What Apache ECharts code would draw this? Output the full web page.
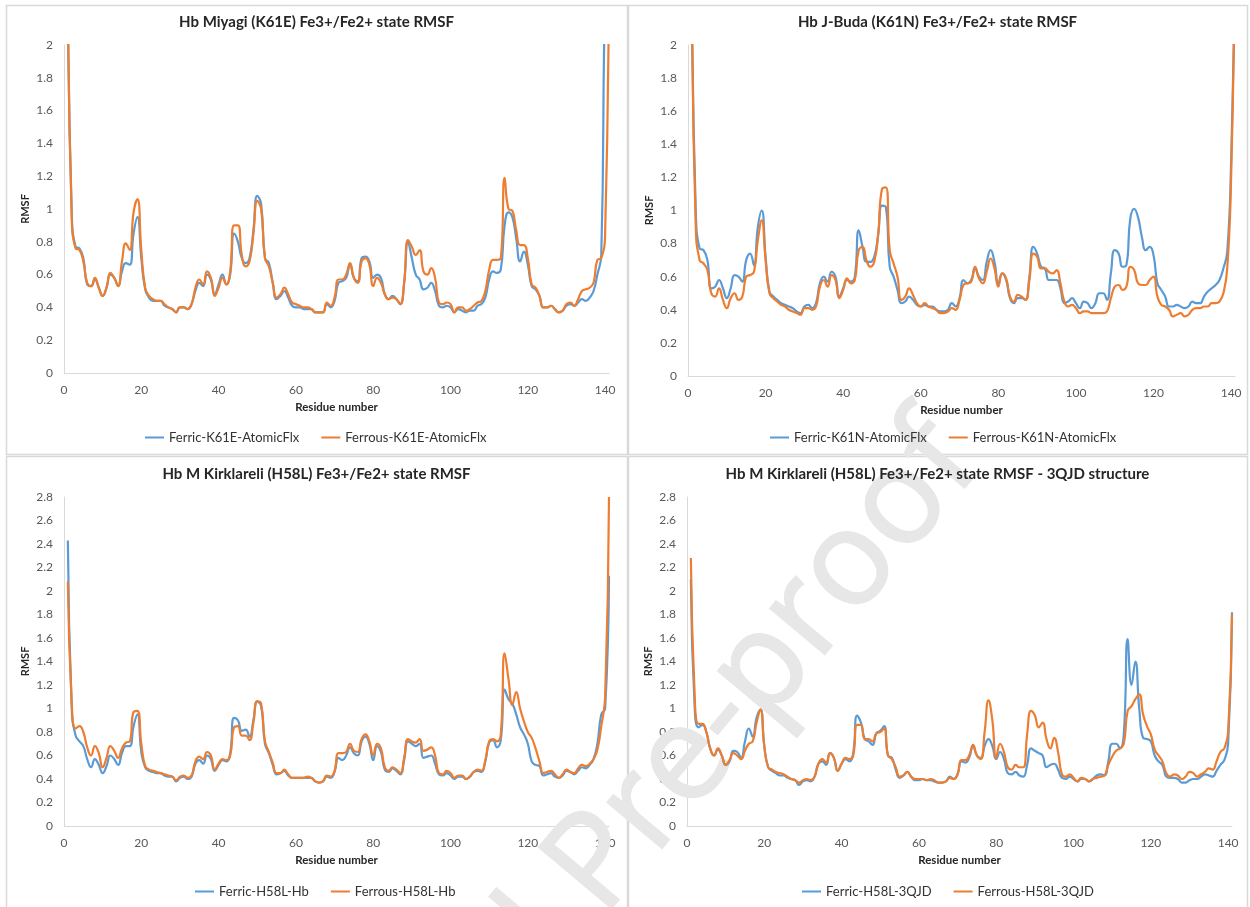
<!DOCTYPE html>
<html>
<head>
<meta charset="utf-8">
<script src="https://cdn.jsdelivr.net/npm/echarts@6/dist/echarts.min.js"></script>
<style>
html,body{margin:0;padding:0;background:#fff;}
#chart{width:1250px;height:907px;}
</style>
</head>
<body>
<div id="chart"></div>
<script>
// Residue numbers (x values)
const residues = Array.from({length: 141}, (_, i) => i + 1);
const xTicks = [0, 20, 40, 60, 80, 100, 120, 140];

const titles = [
  'Hb Miyagi (K61E) Fe3+/Fe2+ state RMSF',
  'Hb J-Buda (K61N) Fe3+/Fe2+ state RMSF',
  'Hb M Kirklareli (H58L) Fe3+/Fe2+ state RMSF',
  'Hb M Kirklareli (H58L) Fe3+/Fe2+ state RMSF - 3QJD structure'
];
const seriesNames = [
  ['Ferric-K61E-AtomicFlx', 'Ferrous-K61E-AtomicFlx'],
  ['Ferric-K61N-AtomicFlx', 'Ferrous-K61N-AtomicFlx'],
  ['Ferric-H58L-Hb', 'Ferrous-H58L-Hb'],
  ['Ferric-H58L-3QJD', 'Ferrous-H58L-3QJD']
];

const ferricK61E = [
  2.3, 0.98, 0.77, 0.76, 0.70, 0.54, 0.53, 0.57, 0.52, 0.47,
  0.52, 0.60, 0.58, 0.53, 0.62, 0.67, 0.66, 0.85, 0.95, 0.70,
  0.51, 0.46, 0.44, 0.44, 0.44, 0.41, 0.40, 0.39, 0.37, 0.40,
  0.40, 0.39, 0.42, 0.50, 0.55, 0.53, 0.60, 0.57, 0.48, 0.54,
  0.60, 0.54, 0.60, 0.85, 0.80, 0.70, 0.67, 0.70, 0.87, 1.08,
  1.03, 0.70, 0.67, 0.55, 0.45, 0.47, 0.50, 0.46, 0.41, 0.40,
  0.40, 0.39, 0.39, 0.39, 0.37, 0.37, 0.37, 0.42, 0.40, 0.44,
  0.55, 0.56, 0.58, 0.66, 0.58, 0.56, 0.70, 0.71, 0.68, 0.58,
  0.60, 0.58, 0.48, 0.45, 0.47, 0.45, 0.42, 0.55, 0.80, 0.70,
  0.60, 0.57, 0.51, 0.52, 0.55, 0.50, 0.41, 0.40, 0.41, 0.40,
  0.37, 0.39, 0.38, 0.37, 0.38, 0.38, 0.41, 0.42, 0.46, 0.57,
  0.62, 0.61, 0.63, 0.90, 0.98, 0.95, 0.82, 0.68, 0.74, 0.66,
  0.53, 0.51, 0.47, 0.40, 0.40, 0.41, 0.39, 0.37, 0.38, 0.41,
  0.42, 0.41, 0.43, 0.45, 0.44, 0.46, 0.50, 0.60, 0.72, 2.3, 2.6
];
const ferrousK61E = [
  2.3, 0.95, 0.76, 0.75, 0.68, 0.55, 0.53, 0.58, 0.52, 0.47,
  0.52, 0.61, 0.58, 0.53, 0.68, 0.79, 0.75, 0.98, 1.06, 0.75,
  0.52, 0.47, 0.45, 0.44, 0.44, 0.42, 0.40, 0.39, 0.37, 0.40,
  0.40, 0.39, 0.42, 0.52, 0.57, 0.54, 0.62, 0.58, 0.47, 0.52,
  0.58, 0.54, 0.62, 0.90, 0.90, 0.72, 0.65, 0.68, 0.85, 1.05,
  1.00, 0.70, 0.65, 0.55, 0.46, 0.48, 0.52, 0.48, 0.43, 0.42,
  0.41, 0.40, 0.40, 0.39, 0.37, 0.37, 0.37, 0.43, 0.41, 0.46,
  0.57, 0.57, 0.60, 0.67, 0.58, 0.55, 0.68, 0.70, 0.66, 0.53,
  0.58, 0.55, 0.48, 0.45, 0.46, 0.45, 0.42, 0.55, 0.81, 0.77,
  0.72, 0.75, 0.62, 0.60, 0.64, 0.58, 0.43, 0.42, 0.43, 0.42,
  0.37, 0.40, 0.40, 0.38, 0.39, 0.41, 0.43, 0.44, 0.50, 0.63,
  0.69, 0.69, 0.70, 1.19, 1.00, 0.99, 0.87, 0.78, 0.78, 0.70,
  0.54, 0.52, 0.47, 0.40, 0.40, 0.41, 0.39, 0.37, 0.38, 0.42,
  0.43, 0.41, 0.45, 0.50, 0.51, 0.52, 0.55, 0.69, 0.70, 0.85, 2.5
];
const ferricK61N = [
  2.3, 1.00, 0.77, 0.76, 0.70, 0.53, 0.54, 0.58, 0.53, 0.47,
  0.53, 0.61, 0.60, 0.57, 0.70, 0.74, 0.67, 0.90, 1.00, 0.72,
  0.51, 0.48, 0.46, 0.44, 0.43, 0.42, 0.41, 0.39, 0.38, 0.42,
  0.43, 0.41, 0.44, 0.56, 0.60, 0.57, 0.63, 0.60, 0.48, 0.53,
  0.58, 0.57, 0.60, 0.88, 0.78, 0.69, 0.69, 0.72, 0.85, 1.03,
  1.02, 0.66, 0.60, 0.52, 0.44, 0.45, 0.48, 0.46, 0.43, 0.42,
  0.43, 0.42, 0.42, 0.40, 0.39, 0.39, 0.40, 0.44, 0.42, 0.47,
  0.58, 0.56, 0.58, 0.65, 0.60, 0.58, 0.69, 0.76, 0.69, 0.56,
  0.62, 0.58, 0.47, 0.44, 0.47, 0.47, 0.46, 0.60, 0.78, 0.74,
  0.66, 0.65, 0.58, 0.58, 0.58, 0.53, 0.44, 0.45, 0.47, 0.44,
  0.41, 0.45, 0.44, 0.41, 0.44, 0.50, 0.50, 0.46, 0.62, 0.76,
  0.74, 0.66, 0.67, 0.95, 1.01, 0.96, 0.84, 0.76, 0.78, 0.73,
  0.56, 0.52, 0.48, 0.42, 0.42, 0.43, 0.42, 0.41, 0.42, 0.45,
  0.44, 0.44, 0.48, 0.51, 0.53, 0.55, 0.58, 0.65, 0.75, 1.3, 2.5
];
const ferrousK61N = [
  2.3, 0.90, 0.70, 0.68, 0.64, 0.50, 0.48, 0.53, 0.46, 0.41,
  0.47, 0.50, 0.46, 0.48, 0.60, 0.61, 0.63, 0.82, 0.94, 0.70,
  0.50, 0.47, 0.45, 0.43, 0.42, 0.40, 0.39, 0.38, 0.37, 0.41,
  0.41, 0.40, 0.42, 0.54, 0.58, 0.54, 0.61, 0.58, 0.47, 0.52,
  0.59, 0.56, 0.58, 0.76, 0.78, 0.70, 0.66, 0.69, 0.85, 1.13,
  1.14, 0.76, 0.68, 0.60, 0.46, 0.48, 0.53, 0.49, 0.44, 0.42,
  0.44, 0.42, 0.41, 0.40, 0.38, 0.38, 0.39, 0.41, 0.40, 0.46,
  0.55, 0.56, 0.57, 0.66, 0.59, 0.56, 0.63, 0.71, 0.65, 0.54,
  0.62, 0.59, 0.48, 0.45, 0.49, 0.48, 0.46, 0.58, 0.74, 0.72,
  0.65, 0.65, 0.63, 0.62, 0.64, 0.56, 0.45, 0.42, 0.43, 0.41,
  0.38, 0.39, 0.39, 0.38, 0.38, 0.38, 0.38, 0.39, 0.47, 0.54,
  0.55, 0.52, 0.54, 0.66, 0.64, 0.56, 0.55, 0.55, 0.58, 0.60,
  0.48, 0.43, 0.42, 0.40, 0.36, 0.37, 0.38, 0.36, 0.37, 0.40,
  0.41, 0.41, 0.42, 0.42, 0.44, 0.44, 0.45, 0.50, 0.65, 1.2, 2.5
];
const ferricH58L = [
  2.43, 1.00, 0.77, 0.72, 0.68, 0.57, 0.50, 0.57, 0.52, 0.45,
  0.51, 0.60, 0.57, 0.52, 0.62, 0.68, 0.68, 0.85, 0.95, 0.63,
  0.50, 0.47, 0.46, 0.45, 0.45, 0.43, 0.42, 0.42, 0.38, 0.41,
  0.42, 0.40, 0.42, 0.53, 0.56, 0.53, 0.60, 0.57, 0.47, 0.52,
  0.56, 0.55, 0.62, 0.92, 0.90, 0.81, 0.82, 0.76, 0.90, 1.06,
  1.02, 0.70, 0.62, 0.52, 0.44, 0.45, 0.47, 0.43, 0.41, 0.41,
  0.41, 0.41, 0.41, 0.41, 0.38, 0.37, 0.38, 0.42, 0.41, 0.46,
  0.58, 0.56, 0.60, 0.67, 0.62, 0.60, 0.72, 0.76, 0.70, 0.56,
  0.68, 0.63, 0.48, 0.46, 0.49, 0.47, 0.44, 0.56, 0.72, 0.70,
  0.68, 0.70, 0.58, 0.59, 0.60, 0.53, 0.44, 0.43, 0.45, 0.43,
  0.40, 0.42, 0.42, 0.40, 0.42, 0.46, 0.47, 0.46, 0.55, 0.71,
  0.73, 0.67, 0.73, 1.16, 1.08, 1.04, 0.95, 0.84, 0.78, 0.70,
  0.55, 0.52, 0.51, 0.43, 0.44, 0.45, 0.42, 0.41, 0.43, 0.47,
  0.46, 0.44, 0.47, 0.50, 0.49, 0.52, 0.57, 0.70, 0.95, 1.00, 2.13
];
const ferrousH58L = [
  2.08, 1.05, 0.83, 0.85, 0.80, 0.67, 0.60, 0.68, 0.62, 0.50,
  0.58, 0.68, 0.64, 0.58, 0.66, 0.71, 0.72, 0.97, 0.98, 0.70,
  0.51, 0.48, 0.47, 0.46, 0.45, 0.44, 0.43, 0.42, 0.39, 0.42,
  0.43, 0.41, 0.43, 0.55, 0.59, 0.57, 0.63, 0.60, 0.48, 0.53,
  0.57, 0.56, 0.60, 0.84, 0.85, 0.77, 0.77, 0.73, 0.88, 1.06,
  1.04, 0.72, 0.63, 0.54, 0.45, 0.45, 0.48, 0.44, 0.41, 0.41,
  0.41, 0.41, 0.42, 0.41, 0.38, 0.37, 0.38, 0.43, 0.42, 0.47,
  0.62, 0.62, 0.63, 0.70, 0.64, 0.63, 0.74, 0.78, 0.72, 0.60,
  0.70, 0.66, 0.50, 0.47, 0.50, 0.48, 0.45, 0.58, 0.74, 0.72,
  0.71, 0.74, 0.64, 0.65, 0.67, 0.60, 0.45, 0.44, 0.47, 0.45,
  0.41, 0.43, 0.43, 0.40, 0.42, 0.46, 0.48, 0.47, 0.56, 0.72,
  0.74, 0.72, 0.78, 1.47, 1.25, 1.03, 1.14, 1.00, 0.89, 0.80,
  0.75, 0.66, 0.55, 0.45, 0.46, 0.47, 0.44, 0.41, 0.44, 0.48,
  0.46, 0.45, 0.49, 0.52, 0.51, 0.53, 0.57, 0.65, 0.85, 1.10, 2.80
];
const ferric3QJD = [
  2.10, 1.00, 0.84, 0.86, 0.80, 0.66, 0.60, 0.65, 0.60, 0.52,
  0.55, 0.64, 0.63, 0.58, 0.72, 0.83, 0.76, 0.92, 0.99, 0.68,
  0.50, 0.47, 0.45, 0.43, 0.43, 0.41, 0.40, 0.39, 0.35, 0.38,
  0.39, 0.38, 0.42, 0.53, 0.55, 0.52, 0.62, 0.58, 0.47, 0.53,
  0.57, 0.55, 0.62, 0.94, 0.88, 0.74, 0.72, 0.69, 0.79, 0.81,
  0.85, 0.60, 0.58, 0.48, 0.41, 0.43, 0.46, 0.42, 0.39, 0.39,
  0.40, 0.39, 0.39, 0.38, 0.37, 0.37, 0.38, 0.42, 0.40, 0.44,
  0.55, 0.54, 0.58, 0.68, 0.60, 0.58, 0.68, 0.74, 0.68, 0.57,
  0.63, 0.57, 0.45, 0.44, 0.46, 0.43, 0.42, 0.52, 0.66, 0.64,
  0.62, 0.60, 0.50, 0.52, 0.53, 0.48, 0.41, 0.40, 0.42, 0.40,
  0.38, 0.40, 0.40, 0.38, 0.40, 0.43, 0.44, 0.43, 0.55, 0.70,
  0.70, 0.66, 0.78, 1.59, 1.20, 1.40, 1.00, 0.75, 0.74, 0.72,
  0.60, 0.55, 0.52, 0.42, 0.41, 0.41, 0.40, 0.37, 0.37, 0.39,
  0.40, 0.40, 0.42, 0.44, 0.43, 0.42, 0.47, 0.52, 0.56, 0.70, 1.82
];
const ferrous3QJD = [
  2.28, 1.10, 0.87, 0.87, 0.80, 0.66, 0.60, 0.66, 0.60, 0.52,
  0.56, 0.62, 0.60, 0.57, 0.64, 0.70, 0.72, 0.88, 0.99, 0.68,
  0.50, 0.48, 0.46, 0.45, 0.44, 0.42, 0.40, 0.39, 0.37, 0.39,
  0.40, 0.39, 0.42, 0.53, 0.57, 0.54, 0.62, 0.58, 0.47, 0.53,
  0.58, 0.57, 0.60, 0.86, 0.86, 0.74, 0.74, 0.72, 0.79, 0.80,
  0.83, 0.60, 0.57, 0.50, 0.42, 0.43, 0.46, 0.42, 0.40, 0.40,
  0.40, 0.39, 0.40, 0.39, 0.37, 0.37, 0.38, 0.41, 0.40, 0.44,
  0.56, 0.56, 0.60, 0.69, 0.60, 0.57, 0.80, 1.07, 0.90, 0.58,
  0.70, 0.63, 0.50, 0.48, 0.52, 0.50, 0.50, 0.78, 0.98, 0.94,
  0.84, 0.88, 0.74, 0.66, 0.75, 0.63, 0.44, 0.42, 0.44, 0.41,
  0.38, 0.41, 0.40, 0.38, 0.40, 0.41, 0.42, 0.43, 0.52, 0.59,
  0.64, 0.66, 0.70, 0.98, 1.02, 1.08, 1.12, 0.95, 0.85, 0.78,
  0.65, 0.60, 0.55, 0.45, 0.42, 0.44, 0.43, 0.40, 0.42, 0.46,
  0.45, 0.42, 0.44, 0.46, 0.49, 0.48, 0.55, 0.63, 0.66, 0.80, 1.80
];

const ferricSeries = [ferricK61E, ferricK61N, ferricH58L, ferric3QJD];
const ferrousSeries = [ferrousK61E, ferrousK61N, ferrousH58L, ferrous3QJD];
const yMaxes = [2, 2, 2.8, 2.8];

const BLUE = '#5B9BD5', ORANGE = '#ED7D31';
const FONT = 'Lato';

// layout (pixels)
const panelBoxes = [
  {x: 6, y: 5, w: 621, h: 449},
  {x: 628, y: 5, w: 619, h: 449},
  {x: 6, y: 456, w: 621, h: 460},
  {x: 628, y: 456, w: 619, h: 460}
];
const grids = [
  {left: 64, top: 45, width: 545, height: 328},
  {left: 688, top: 45, width: 547, height: 331},
  {left: 64, top: 497, width: 545, height: 329},
  {left: 687, top: 497, width: 545, height: 329}
];
const legendLefts = [145, 770, 195, 802];
const legendTops = [431, 431, 885, 885];
const titleTops = [15, 15, 467, 467];

const option = {
  animation: false,
  backgroundColor: '#ffffff',
  textStyle: {fontFamily: FONT},
  title: titles.map((t, i) => ({
    text: t,
    left: panelBoxes[i].x + panelBoxes[i].w / 2,
    top: titleTops[i],
    textAlign: 'center',
    padding: 0,
    textStyle: {fontFamily: FONT, fontSize: 15, fontWeight: 'bold', color: '#262626'}
  })),
  legend: seriesNames.map((n, i) => ({
    data: n,
    left: legendLefts[i],
    top: legendTops[i],
    padding: 0,
    itemGap: 22,
    itemWidth: 19,
    itemHeight: 2,
    icon: 'rect',
    textStyle: {fontFamily: FONT, fontSize: 13, color: '#333333'}
  })),
  grid: grids.map(g => Object.assign({containLabel: false}, g)),
  xAxis: grids.map((g, i) => ({
    type: 'value',
    gridIndex: i,
    min: 0,
    max: 141,
    interval: 20,
    name: 'Residue number',
    nameLocation: 'middle',
    nameGap: 28,
    nameTextStyle: {fontFamily: FONT, fontSize: 11.5, fontWeight: 'bold', color: '#262626'},
    axisLine: {show: true, lineStyle: {color: '#d9d9d9', width: 1}},
    axisTick: {show: false},
    splitLine: {show: false},
    axisLabel: {
      color: '#595959', fontSize: 12, margin: 11, showMaxLabel: false,
      formatter: v => (xTicks.indexOf(v) >= 0 ? String(v) : '')
    }
  })),
  yAxis: grids.map((g, i) => ({
    type: 'value',
    gridIndex: i,
    min: 0,
    max: yMaxes[i],
    interval: 0.2,
    name: 'RMSF',
    nameLocation: 'middle',
    nameGap: 33,
    nameTextStyle: {fontFamily: FONT, fontSize: 11, fontWeight: 'bold', color: '#262626'},
    axisLine: {show: true, lineStyle: {color: '#d9d9d9', width: 1}},
    axisTick: {show: false},
    splitLine: {show: false},
    axisLabel: {color: '#595959', fontSize: 12, margin: 11,
      formatter: v => String(Math.round(v * 10) / 10)}
  })),
  series: [],
  graphic: {
    elements: [
      ...panelBoxes.map(b => ({
        type: 'rect', z: 0, silent: true,
        shape: {x: b.x + 0.5, y: b.y + 0.5, width: b.w, height: b.h},
        style: {fill: null, stroke: '#d9d9d9', lineWidth: 1.5}
      })),
      {
        type: 'text', z: 1, silent: true,
        x: 955, y: 440, rotation: 50 * Math.PI / 180,
        style: {text: 'Journal Pre-proof', font: '133px "Open Sans"', fill: '#e7e7e7',
          stroke: '#e7e7e7', lineWidth: 2,
          align: 'right', verticalAlign: 'middle'}
      }
    ]
  }
};

for (let i = 0; i < 4; i++) {
  option.series.push({
    name: seriesNames[i][0], type: 'line', xAxisIndex: i, yAxisIndex: i,
    data: residues.map((r, k) => [r, ferricSeries[i][k]]),
    showSymbol: false, smooth: 0.5, color: BLUE,
    lineStyle: {width: 2.2, color: BLUE}, z: 3
  });
  option.series.push({
    name: seriesNames[i][1], type: 'line', xAxisIndex: i, yAxisIndex: i,
    data: residues.map((r, k) => [r, ferrousSeries[i][k]]),
    showSymbol: false, smooth: 0.5, color: ORANGE,
    lineStyle: {width: 2.2, color: ORANGE}, z: 4
  });
}

const chart = echarts.init(document.getElementById('chart'), null, {renderer: 'canvas'});
chart.setOption(option);
</script>
</body>
</html>
